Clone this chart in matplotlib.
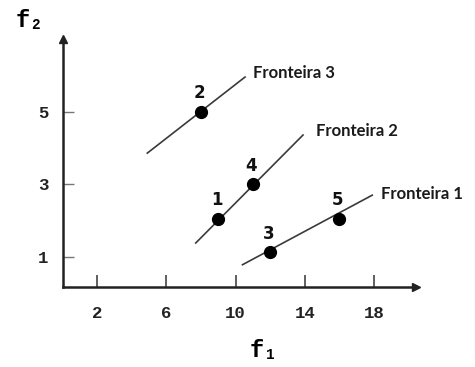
import matplotlib
matplotlib.use("Agg")
import matplotlib.pyplot as plt

# pontos (f1, f2)
pt_labels = ["1", "2", "3", "4", "5"]
pt_f1 = [9, 8, 12, 11, 16]
pt_f2 = [2.05, 5.0, 1.12, 3.0, 2.05]

# fronteiras: extremos dos segmentos
fr_labels = ["Fronteira 1", "Fronteira 2", "Fronteira 3"]
fr_x = [[10.4, 17.9], [7.7, 13.9], [4.9, 10.55]]
fr_y = [[0.78, 2.7], [1.38, 4.36], [3.86, 5.96]]
fr_off = [(6, 1), (9, 3), (6, 3)]

x_ticks = [2, 6, 10, 14, 18]
y_ticks = [1, 3, 5]

MONO = ["Liberation Mono", "DejaVu Sans Mono"]
LINE_C = "#3a3a3a"

fig = plt.figure(figsize=(4.75, 3.67), dpi=100)
ax = fig.add_axes([0.1316, 0.2016, 0.765, 0.711])
ax.set_xlim(0, 21)
ax.set_ylim(0, 7.2)

for s in ["top", "right"]:
    ax.spines[s].set_visible(False)
ax.spines["left"].set_position(("data", 0))
ax.spines["bottom"].set_position(("data", 0.17))
ax.spines["left"].set_bounds(0.17, 7.0)
ax.spines["bottom"].set_bounds(0, 20.4)
for s in ["left", "bottom"]:
    ax.spines[s].set_linewidth(1.8)
    ax.spines[s].set_color("#222222")

# setas nos eixos
ax.plot(20.4, 0.17, marker=">", color="#222222", ms=6, clip_on=False)
ax.plot(0, 7.0, marker="^", color="#222222", ms=6, clip_on=False)

ax.set_xticks(x_ticks)
ax.set_yticks(y_ticks)
ax.tick_params(axis="x", direction="in", length=9, width=1.2, colors="#444444",
               pad=14, labelcolor="#222222")
ax.tick_params(axis="y", direction="in", length=8, width=1.0, colors="#777777",
               pad=10, labelcolor="#222222")
for lab in ax.get_xticklabels() + ax.get_yticklabels():
    lab.set_family(MONO)
    lab.set_fontweight("bold")
    lab.set_fontsize(12.5)

# fronteiras
for lab, xs, ys, off in zip(fr_labels, fr_x, fr_y, fr_off):
    ax.plot(xs, ys, color=LINE_C, lw=1.2)
    ax.annotate(lab, (xs[1], ys[1]), xytext=off, textcoords="offset points",
                ha="left", va="center", fontsize=12, fontweight="bold",
                family=["Lato", "DejaVu Sans"], color="#1a1a1a",
                annotation_clip=False)

# pontos
ax.plot(pt_f1, pt_f2, "o", color="black", ms=8.5, ls="none", zorder=3)
for lab, x, y in zip(pt_labels, pt_f1, pt_f2):
    ax.annotate(lab, (x, y), xytext=(-1, 7), textcoords="offset points",
                ha="center", va="bottom", fontsize=12, fontweight="bold",
                family=["DejaVu Sans"], color="#111111")

# rótulos dos eixos
fig.text(0.062, 0.945, "f\u2082", fontsize=17, fontweight="bold",
         family=MONO, ha="center", va="center")
fig.text(0.555, 0.045, "f\u2081", fontsize=17, fontweight="bold",
         family=MONO, ha="center", va="center")

fig.savefig("out.png", dpi=100)
